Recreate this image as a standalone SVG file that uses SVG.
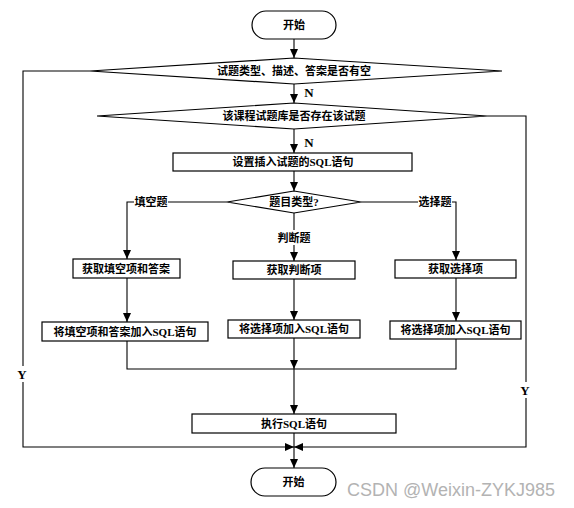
<svg xmlns="http://www.w3.org/2000/svg" width="574" height="508" viewBox="0 0 574 508">
<style>
.box{fill:#fff;stroke:#000;stroke-width:1.2}
.ln{fill:none;stroke:#000;stroke-width:1.1}
.arr{marker-end:url(#ah)}
.t{font-family:"Liberation Serif","Noto Sans CJK SC",serif;font-weight:bold;font-size:11px;fill:#000;text-anchor:middle;dominant-baseline:central}
.yn{font-size:13px}
.lb{fill:#fff;stroke:none}
.wm{font-family:"Liberation Sans","Noto Sans",sans-serif;font-size:18px;fill:#b3b3b3}
</style>
<defs>
<marker id="ah" viewBox="0 0 9 8" refX="9" refY="4" markerWidth="9" markerHeight="8" markerUnits="userSpaceOnUse" orient="auto">
<path d="M0,0 L9,4 L0,8 z" fill="#000"/>
</marker>
</defs>
<rect width="574" height="508" fill="#fff"/>
<g id="connectors">
<path class="ln arr" d="M294,39 V58"/>
<path class="ln arr" d="M294,84 V103"/>
<path class="ln arr" d="M294,129 V153"/>
<path class="ln arr" d="M294,171 V191"/>
<path class="ln arr" d="M227,202 H127 V259"/>
<path class="ln arr" d="M294,213 V261"/>
<path class="ln arr" d="M361,202 H456 V260"/>
<path class="ln arr" d="M127,278 V322"/>
<path class="ln arr" d="M294,279 V320"/>
<path class="ln arr" d="M456,278 V321"/>
<path class="ln" d="M127,341 V369 H456 V339"/>
<path class="ln arr" d="M294,338 V369"/>
<path class="ln arr" d="M294,369 V414"/>
<path class="ln arr" d="M294,433 V468"/>
<path class="ln arr" d="M90,71 H23 V447 H294"/>
<path class="ln arr" d="M487,116 H526 V447 H294"/>
<g id="lbl-n1"><text class="t yn" x="309" y="92">N</text></g>
<g id="lbl-n2"><text class="t yn" x="309" y="142">N</text></g>
<g id="lbl-y1"><rect class="lb" x="16" y="366" width="13" height="16"/><text class="t yn" x="22" y="374">Y</text></g>
<g id="lbl-y2"><rect class="lb" x="519" y="382" width="13" height="16"/><text class="t yn" x="525" y="390">Y</text></g>
<g id="lbl-fill"><rect class="lb" x="134" y="195" width="34" height="14"/><text class="t" x="151" y="202">填空题</text></g>
<g id="lbl-judge"><rect class="lb" x="276" y="230" width="36" height="15"/><text class="t" x="294" y="238">判断题</text></g>
<g id="lbl-choice"><rect class="lb" x="418" y="195" width="34" height="14"/><text class="t" x="435" y="202">选择题</text></g>
</g>
<g id="start"><rect class="box" x="252" y="11" width="84" height="28" rx="14"/><text class="t" x="294" y="25">开始</text></g>
<g id="check-empty"><polygon class="box" points="90,71 294,58 502,71 294,84"/><text class="t" x="294" y="71">试题类型、描述、答案是否有空</text></g>
<g id="check-exist"><polygon class="box" points="97,116 294,103 487,116 294,129"/><text class="t" x="294" y="116">该课程试题库是否存在该试题</text></g>
<g id="set-sql"><rect class="box" x="173" y="153" width="239" height="18"/><text class="t" x="293" y="162">设置插入试题的SQL语句</text></g>
<g id="type"><polygon class="box" points="227,202 294,191 361,202 294,213"/><text class="t" x="294" y="202">题目类型?</text></g>
<g id="get-fill"><rect class="box" x="73" y="259" width="107" height="19"/><text class="t" x="126" y="268.5">获取填空项和答案</text></g>
<g id="get-judge"><rect class="box" x="233" y="261" width="122" height="18"/><text class="t" x="294" y="270">获取判断项</text></g>
<g id="get-choice"><rect class="box" x="395" y="260" width="121" height="18"/><text class="t" x="455.5" y="269">获取选择项</text></g>
<g id="add-fill"><rect class="box" x="42" y="322" width="166" height="19"/><text class="t" x="125" y="331.5">将填空项和答案加入SQL语句</text></g>
<g id="add-judge"><rect class="box" x="228" y="320" width="132" height="18"/><text class="t" x="294" y="329">将选择项加入SQL语句</text></g>
<g id="add-choice"><rect class="box" x="390" y="321" width="131" height="18"/><text class="t" x="455.5" y="330">将选择项加入SQL语句</text></g>
<g id="exec"><rect class="box" x="192" y="414" width="204" height="19"/><text class="t" x="294" y="423.5">执行SQL语句</text></g>
<g id="end"><rect class="box" x="251" y="468" width="85" height="28" rx="14"/><text class="t" x="293.5" y="482">开始</text></g>
<text class="wm" x="347" y="496">CSDN @Weixin-ZYKJ985</text>
</svg>
